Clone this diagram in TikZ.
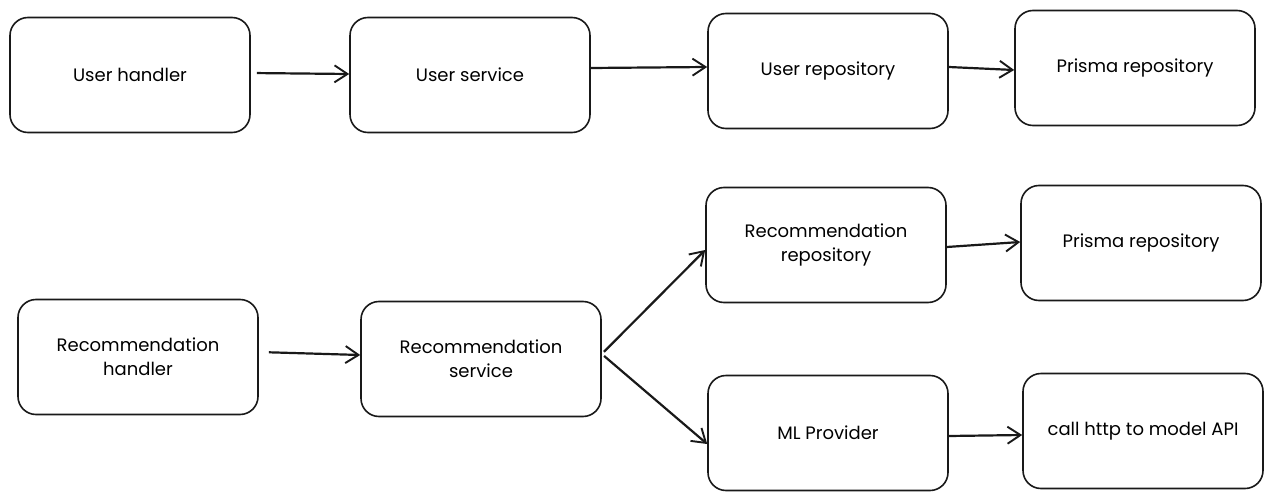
\documentclass[tikz,border=0pt]{standalone}
\usepackage{fontspec}
\setmainfont{Poppins}
\usetikzlibrary{arrows.meta}
\tikzset{
  box/.style={draw=black!90, line width=1.6pt, rounded corners=18pt, minimum width=240pt, minimum height=115pt, align=center, font=\fontsize{18}{24}\selectfont, fill=white},
  arr/.style={draw=black!90, line width=2.2pt, -{Straight Barb[length=13pt,width=17pt,line width=1.9pt]}}
}
\begin{document}
\begin{tikzpicture}[x=1pt,y=-1pt]
\useasboundingbox[fill=white] (0,0) rectangle (1274,500);
\node[box] (uh) at (130,75) {User handler};
\node[box] (us) at (470,75) {User service};
\node[box] (ur) at (828,71) {User repository};
\node[box] (pr1) at (1135,68) {Prisma repository};
\node[box] (rh) at (138,357) {Recommendation\\handler};
\node[box] (rs) at (481,359) {Recommendation\\service};
\node[box] (rr) at (826,245) {Recommendation\\repository};
\node[box] (pr2) at (1141,243) {Prisma repository};
\node[box] (ml) at (828,433) {ML Provider};
\node[box] (api) at (1143,431) {call http to model API};
\draw[arr, shorten <=6pt] ([yshift=2pt]uh.east) -- ([yshift=1pt]us.west);
\draw[arr] ([yshift=7pt]us.east) -- ([yshift=4pt]ur.west);
\draw[arr] ([yshift=4pt]ur.east) -- ([yshift=-2pt]pr1.west);
\draw[arr, shorten <=10pt] ([yshift=5pt]rh.east) -- ([yshift=4pt]rs.west);
\draw[arr, shorten <=3pt] ([yshift=5pt]rs.east) -- ([yshift=-5pt]rr.west);
\draw[arr, shorten <=3pt] ([yshift=5pt]rs.east) -- ([yshift=-11pt]ml.west);
\draw[arr] ([yshift=-2pt]rr.east) -- ([yshift=1pt]pr2.west);
\draw[arr] ([yshift=-3pt]ml.east) -- ([yshift=-4pt]api.west);
\end{tikzpicture}
\end{document}
